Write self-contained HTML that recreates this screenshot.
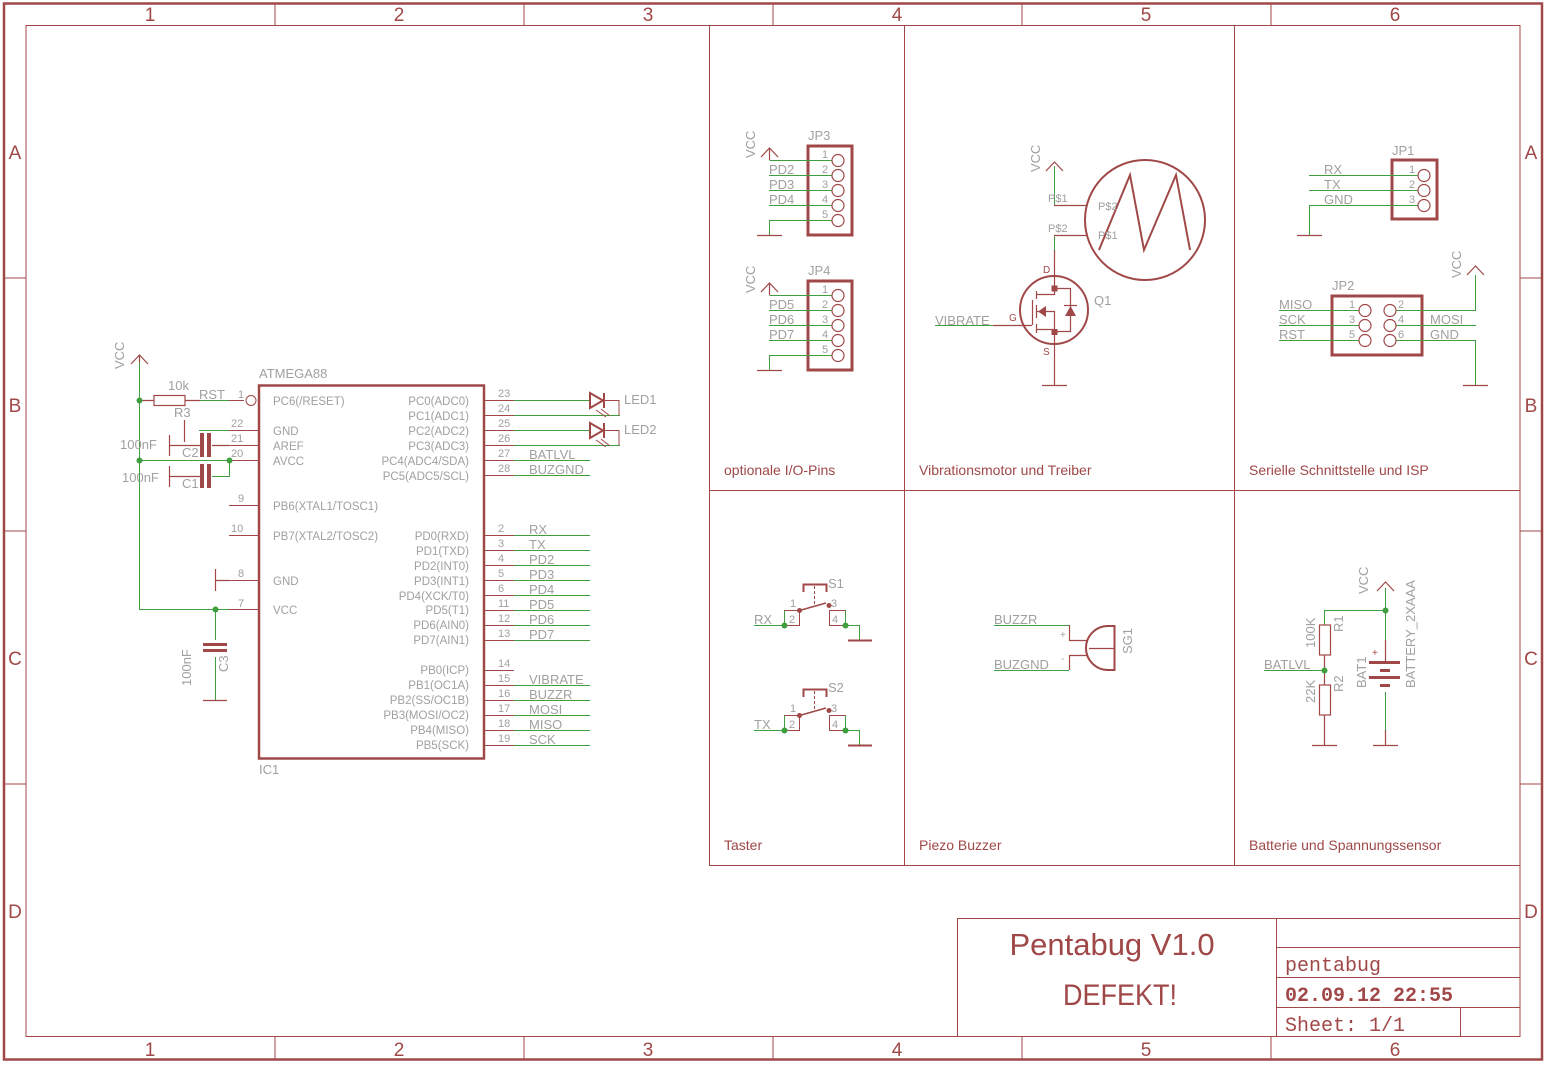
<!DOCTYPE html>
<html><head><meta charset="utf-8"><style>
html,body{margin:0;padding:0;background:#fff}
svg{display:block}
.r{stroke:#a04848;fill:none}
.g{stroke:#3f9f3f;fill:none}
.t{font-family:"Liberation Sans",sans-serif;fill:#a0a0a0}
.rt{font-family:"Liberation Sans",sans-serif;fill:#a04848}
</style></head><body>
<svg width="1545" height="1065" viewBox="0 0 1545 1065" xmlns="http://www.w3.org/2000/svg">
<!-- frame -->
<rect x="4" y="3.5" width="1538" height="1056" class="r" stroke-width="2.5"/>
<rect x="26" y="25.5" width="1494" height="1011" class="r" stroke-width="1"/>
<g class="r" stroke-width="1">
<path d="M275 4V25M524 4V25M773 4V25M1022 4V25M1271 4V25"/>
<path d="M275 1037V1059M524 1037V1059M773 1037V1059M1022 1037V1059M1271 1037V1059"/>
<path d="M4 278H26M4 531H26M4 784H26M1520 278H1542M1520 531H1542M1520 784H1542"/>
<!-- panels -->
<path d="M709.5 26V865.5H1520M904.5 26V865M1234.5 26V865M709 490.5H1520"/>
<!-- title block -->
<path d="M957.5 918.5H1520M957.5 918V1037M1276.5 918V1037M1276 947.5H1520M1276 977.5H1520M1276 1007.5H1520M1460.5 1007V1037"/>
</g>
<g class="rt" font-size="19" text-anchor="middle">
<text x="150" y="21">1</text><text x="399" y="21">2</text><text x="648" y="21">3</text><text x="897" y="21">4</text><text x="1146" y="21">5</text><text x="1395" y="21">6</text>
<text x="150" y="1056">1</text><text x="399" y="1056">2</text><text x="648" y="1056">3</text><text x="897" y="1056">4</text><text x="1146" y="1056">5</text><text x="1395" y="1056">6</text>
<text x="15" y="159">A</text><text x="15" y="412">B</text><text x="15" y="665">C</text><text x="15" y="918">D</text>
<text x="1531" y="159">A</text><text x="1531" y="412">B</text><text x="1531" y="665">C</text><text x="1531" y="918">D</text>
</g>
<g class="rt" font-size="14">
<text x="724" y="475">optionale I/O-Pins</text>
<text x="919" y="475">Vibrationsmotor und Treiber</text>
<text x="1249" y="475">Serielle Schnittstelle und ISP</text>
<text x="724" y="850">Taster</text>
<text x="919" y="850">Piezo Buzzer</text>
<text x="1249" y="850">Batterie und Spannungssensor</text>
</g>
<text class="rt" x="1112" y="955" font-size="31" text-anchor="middle">Pentabug V1.0</text>
<text class="rt" x="1120" y="1005" font-size="30" text-anchor="middle" transform="translate(1120 0) scale(0.9 1) translate(-1120 0)">DEFEKT!</text>
<g font-family="Liberation Mono,monospace" fill="#a04848" font-size="20">
<text x="1285" y="971">pentabug</text>
<text x="1285" y="1001" font-weight="bold">02.09.12 22:55</text>
<text x="1285" y="1031">Sheet: 1/1</text>
</g>

<!-- IC1 -->
<rect x="259" y="385.5" width="225" height="373" class="r" stroke-width="2.5"/>
<text class="t" x="259" y="378" font-size="13">ATMEGA88</text>
<text class="t" x="259" y="774" font-size="13">IC1</text>
<g class="r" stroke-width="1">
<path d="M229 400.5H244M229 430.5H259M229 445.5H259M229 460.5H259M229 505.5H259M229 535.5H259M229 580.5H259M229 609.5H259"/>
<circle cx="251" cy="400.5" r="5"/>
<path d="M484 400.5H514M484 415.5H514M484 430.5H514M484 445.5H514M484 460.5H514M484 475.5H514M484 535.5H514M484 550.5H514M484 565.5H514M484 580.5H514M484 595.5H514M484 610.5H514M484 625.5H514M484 640.5H514M484 670.5H514M484 685.5H514M484 700.5H514M484 715.5H514M484 730.5H514M484 745.5H514"/>
</g>
<g class="g" stroke-width="1">
<path d="M514 400.5H590M514 415.5H620M514 430.5H590M514 445.5H620M514 460.5H590M514 475.5H590M514 535.5H590M514 550.5H590M514 565.5H590M514 580.5H590M514 595.5H590M514 610.5H590M514 625.5H590M514 640.5H590M514 685.5H590M514 700.5H590M514 715.5H590M514 730.5H590M514 745.5H590"/>
</g>
<g class="t" font-size="11.5">
<text x="273" y="405">PC6(/RESET)</text><text x="273" y="435">GND</text><text x="273" y="450">AREF</text><text x="273" y="465">AVCC</text>
<text x="273" y="510">PB6(XTAL1/TOSC1)</text><text x="273" y="540">PB7(XTAL2/TOSC2)</text><text x="273" y="585">GND</text><text x="273" y="614">VCC</text>
</g>
<g class="t" font-size="11.5" text-anchor="end">
<text x="469" y="405">PC0(ADC0)</text><text x="469" y="420">PC1(ADC1)</text><text x="469" y="435">PC2(ADC2)</text><text x="469" y="450">PC3(ADC3)</text><text x="469" y="465">PC4(ADC4/SDA)</text><text x="469" y="480">PC5(ADC5/SCL)</text>
<text x="469" y="540">PD0(RXD)</text><text x="469" y="555">PD1(TXD)</text><text x="469" y="570">PD2(INT0)</text><text x="469" y="585">PD3(INT1)</text><text x="469" y="600">PD4(XCK/T0)</text><text x="469" y="614">PD5(T1)</text><text x="469" y="629">PD6(AIN0)</text><text x="469" y="644">PD7(AIN1)</text>
<text x="469" y="674">PB0(ICP)</text><text x="469" y="689">PB1(OC1A)</text><text x="469" y="704">PB2(SS/OC1B)</text><text x="469" y="719">PB3(MOSI/OC2)</text><text x="469" y="734">PB4(MISO)</text><text x="469" y="749">PB5(SCK)</text>
</g>
<g class="t" font-size="11">
<text x="498" y="397">23</text><text x="498" y="412">24</text><text x="498" y="427">25</text><text x="498" y="442">26</text><text x="498" y="457">27</text><text x="498" y="472">28</text>
<text x="498" y="532">2</text><text x="498" y="547">3</text><text x="498" y="562">4</text><text x="498" y="577">5</text><text x="498" y="592">6</text><text x="498" y="607">11</text><text x="498" y="622">12</text><text x="498" y="637">13</text>
<text x="498" y="667">14</text><text x="498" y="682">15</text><text x="498" y="697">16</text><text x="498" y="712">17</text><text x="498" y="727">18</text><text x="498" y="742">19</text>
<text x="238" y="398">1</text><text x="231" y="427">22</text><text x="231" y="442">21</text><text x="231" y="457">20</text><text x="238" y="502">9</text><text x="231" y="532">10</text><text x="238" y="577">8</text><text x="238" y="607">7</text>
</g>
<g class="t" font-size="13">
<text x="529" y="459">BATLVL</text><text x="529" y="474">BUZGND</text>
<text x="529" y="534">RX</text><text x="529" y="549">TX</text><text x="529" y="564">PD2</text><text x="529" y="579">PD3</text><text x="529" y="594">PD4</text><text x="529" y="609">PD5</text><text x="529" y="624">PD6</text><text x="529" y="639">PD7</text>
<text x="529" y="684">VIBRATE</text><text x="529" y="699">BUZZR</text><text x="529" y="714">MOSI</text><text x="529" y="729">MISO</text><text x="529" y="744">SCK</text>
</g>
<!-- LEDs -->
<g class="r" stroke-width="2">
<path d="M590 393V408L603 400.5Z M604 393V408"/>
<path d="M590 423V438L603 430.5Z M604 423V438"/>
</g>
<g class="r" stroke-width="1">
<path d="M603 400.5H619V415.5M603 430.5H619V445.5"/>
<path d="M596 410L606 417M601 409L610 416M596 440L606 447M601 439L610 446"/>
</g>
<text class="t" x="624" y="404" font-size="13">LED1</text>
<text class="t" x="624" y="434" font-size="13">LED2</text>

<!-- left passives -->
<g class="g" stroke-width="1">
<path d="M139.5 362V609.5H229M139 460.5H229M200 400.5H229M199 430.5H229M229.5 460V476.5H212M215.5 609V640M215.5 657V700"/>
</g>
<g class="r" stroke-width="1.2">
<path d="M131 364L139.5 355L148 364M139.5 355V362"/>
<rect x="154" y="395.5" width="31" height="10"/>
<path d="M139 400.5H154M185 400.5H200M184.5 420V442"/>
<path d="M169.5 435V456M169 445.5H200M212 445.5H229M169.5 466V487M169 476.5H200"/>
<path d="M215.5 569V591M215 580.5H229"/>
<path d="M203 700.5H227"/>
</g>
<g fill="#a04848">
<rect x="200" y="433" width="4" height="24"/><rect x="207" y="433" width="4" height="24"/>
<rect x="200" y="464" width="4" height="24"/><rect x="207" y="464" width="4" height="24"/>
<rect x="203" y="643" width="24" height="3"/><rect x="203" y="649" width="24" height="3"/>
</g>
<g fill="#3f9f3f"><circle cx="139.5" cy="400.5" r="3"/><circle cx="139.5" cy="460.5" r="3"/><circle cx="229.5" cy="460.5" r="3"/><circle cx="215.5" cy="609.5" r="3"/></g>
<g class="t" font-size="13">
<text x="124" y="369" transform="rotate(-90 124 369)">VCC</text>
<text x="168" y="390">10k</text><text x="174" y="417">R3</text><text x="199" y="399">RST</text>
<text x="120" y="449">100nF</text><text x="182" y="457">C2</text>
<text x="122" y="482">100nF</text><text x="182" y="488">C1</text>
<text x="191" y="686" transform="rotate(-90 191 686)">100nF</text>
<text x="228" y="672" transform="rotate(-90 228 672)">C3</text>
</g>

<!-- JP3 / JP4 -->
<g id="jp">
<rect x="808" y="146" width="44" height="89" class="r" stroke-width="3"/>
<g class="g" stroke-width="1"><path d="M769.5 160.5H832M769 175.5H832M769 190.5H832M769 205.5H832M769.5 235V220.5H832"/></g>
<g class="r" stroke-width="1.2">
<path d="M761 157L769.5 148L778 157M769.5 148V160"/>
<path d="M757 235.5H782"/>
<circle cx="838" cy="160.5" r="6"/><circle cx="838" cy="175.5" r="6"/><circle cx="838" cy="190.5" r="6"/><circle cx="838" cy="205.5" r="6"/><circle cx="838" cy="220.5" r="6"/>
</g>
<g class="t" font-size="11"><text x="822" y="158">1</text><text x="822" y="173">2</text><text x="822" y="188">3</text><text x="822" y="203">4</text><text x="822" y="218">5</text></g>
</g>
<use href="#jp" transform="translate(0 135)"/>
<g class="t" font-size="13">
<text x="755" y="158" transform="rotate(-90 755 158)">VCC</text><text x="808" y="140">JP3</text>
<text x="769" y="174">PD2</text><text x="769" y="189">PD3</text><text x="769" y="204">PD4</text>
<text x="755" y="293" transform="rotate(-90 755 293)">VCC</text><text x="808" y="275">JP4</text>
<text x="769" y="309">PD5</text><text x="769" y="324">PD6</text><text x="769" y="339">PD7</text>
</g>

<!-- Motor & Q1 -->
<g class="g" stroke-width="1"><path d="M1054.5 166V205.5M1054.5 235V250M935 325.5H993"/></g>
<g class="r" stroke-width="1.2">
<path d="M1046 171L1054.5 162L1063 171"/>
<path d="M1054 205.5H1086M1054 235.5H1086M1054.5 250V288"/>
<circle cx="1145" cy="220" r="60" stroke-width="2"/>
<path d="M1099 250L1130 175L1144 250L1176 175L1190 250" stroke-width="2"/>
<circle cx="1054" cy="310" r="34" stroke-width="2"/>
<path d="M993 325.5H1032M1032.5 300V325"/>
<path d="M1036.5 291V299M1036.5 305V318M1036.5 324V333"/>
<path d="M1036 294.5H1054.5V288M1036 311.5H1054.5V332M1036 329.5H1054.5"/>
<path d="M1054 288.5H1070.5V331.5H1054"/>
<path d="M1054.5 332V385M1042 385.5H1067"/>
<path d="M1064 305.5H1077"/>
</g>
<g fill="#a04848">
<path d="M1038 311.5L1046 306V317Z"/><path d="M1065 316L1070.5 306L1076 316Z"/>
<rect x="1051.5" y="285.5" width="6" height="6"/><rect x="1051.5" y="329" width="6" height="6"/>
</g>
<g class="t" font-size="11">
<text x="1040" y="172" font-size="13" transform="rotate(-90 1040 172)">VCC</text>
<text x="1048" y="202">P$1</text><text x="1048" y="232">P$2</text>
<text x="1098" y="210">P$2</text><text x="1098" y="239">P$1</text>
<text x="1094" y="305" font-size="13">Q1</text>
<text x="935" y="325" font-size="13">VIBRATE</text>
</g>
<g class="rt" font-size="10"><text x="1043" y="273">D</text><text x="1009" y="321">G</text><text x="1043" y="355">S</text></g>

<!-- JP1 -->
<rect x="1392" y="160" width="45" height="59" class="r" stroke-width="3"/>
<g class="g" stroke-width="1"><path d="M1309 175.5H1418M1309 190.5H1418M1309.5 235V205.5H1418"/></g>
<g class="r" stroke-width="1.2">
<path d="M1297 235.5H1322"/>
<circle cx="1424" cy="175.5" r="6"/><circle cx="1424" cy="190.5" r="6"/><circle cx="1424" cy="205.5" r="6"/>
</g>
<g class="t" font-size="13"><text x="1392" y="155">JP1</text><text x="1324" y="174">RX</text><text x="1324" y="189">TX</text><text x="1324" y="204">GND</text></g>
<g class="t" font-size="11"><text x="1409" y="173">1</text><text x="1409" y="188">2</text><text x="1409" y="203">3</text></g>
<!-- JP2 -->
<rect x="1332" y="296" width="90" height="59" class="r" stroke-width="3"/>
<g class="g" stroke-width="1"><path d="M1279 310.5H1359M1279 325.5H1359M1279 340.5H1359M1396 310.5H1475.5V275M1396 325.5H1476M1396 340.5H1475.5V385"/></g>
<g class="r" stroke-width="1.2">
<path d="M1467 275L1475.5 266L1484 275"/>
<path d="M1463 385.5H1488"/>
<circle cx="1365" cy="310.5" r="6"/><circle cx="1365" cy="325.5" r="6"/><circle cx="1365" cy="340.5" r="6"/>
<circle cx="1390" cy="310.5" r="6"/><circle cx="1390" cy="325.5" r="6"/><circle cx="1390" cy="340.5" r="6"/>
</g>
<g class="t" font-size="13"><text x="1332" y="290">JP2</text><text x="1279" y="309">MISO</text><text x="1279" y="324">SCK</text><text x="1279" y="339">RST</text><text x="1430" y="324">MOSI</text><text x="1430" y="339">GND</text>
<text x="1461" y="278" transform="rotate(-90 1461 278)">VCC</text></g>
<g class="t" font-size="11"><text x="1349" y="308">1</text><text x="1349" y="323">3</text><text x="1349" y="338">5</text><text x="1398" y="308">2</text><text x="1398" y="323">4</text><text x="1398" y="338">6</text></g>

<!-- switches -->
<g id="sw">
<g class="g" stroke-width="1"><path d="M754 625.5H784.5V610M845.5 610V625.5H859.5V640"/></g>
<g class="r" stroke-width="1">
<path d="M784.5 610.5H799.5V625.5H784M829.5 610.5V625.5H846M829 610.5H845.5"/>
<path d="M799.5 610.5L826 603" stroke-width="1.6"/>
<path d="M803.5 592V584.5H826.5V592" stroke-width="2"/>
<path d="M814.5 586V604" stroke-dasharray="3 2"/>
<path d="M848 640.5H872" stroke-width="2"/>
</g>
<g fill="#a04848"><circle cx="799.5" cy="610.5" r="2.5"/><circle cx="829" cy="605.5" r="2.5"/></g>
<g fill="#3f9f3f"><circle cx="784.5" cy="625.5" r="3"/><circle cx="845.5" cy="625.5" r="3"/></g>
<g class="t" font-size="11"><text x="790" y="607">1</text><text x="831" y="607">3</text><text x="789" y="623">2</text><text x="832" y="623">4</text></g>
</g>
<use href="#sw" transform="translate(0 105)"/>
<g class="t" font-size="13"><text x="828" y="588">S1</text><text x="754" y="624">RX</text><text x="828" y="692">S2</text><text x="754" y="729">TX</text></g>

<!-- buzzer -->
<g class="g" stroke-width="1"><path d="M994 625.5H1069M994 670.5H1069"/></g>
<g class="r" stroke-width="1.2">
<path d="M1069.5 625V640.5H1088M1069.5 670V655.5H1088M1089 648.5H1114"/>
<path d="M1114.5 626V670H1108A22 22 0 0 1 1108 626Z" stroke-width="2"/>
</g>
<g class="t" font-size="13"><text x="994" y="624">BUZZR</text><text x="994" y="669">BUZGND</text>
<text x="1132" y="654" transform="rotate(-90 1132 654)">SG1</text></g>
<text class="t" x="1060" y="638" font-size="10">+</text><text class="t" x="1061" y="662" font-size="10">-</text>

<!-- battery -->
<g class="g" stroke-width="1"><path d="M1385.5 588V640M1324.5 625V610.5H1385.5M1264 670.5H1324M1385.5 692V730"/></g>
<g class="r" stroke-width="1.2">
<path d="M1377 591L1385.5 582L1394 591"/>
<rect x="1319.5" y="625" width="11" height="30"/><rect x="1319.5" y="685" width="11" height="30"/>
<path d="M1324.5 655V685M1324.5 715V745M1312 745.5H1337M1385.5 640V663M1385.5 730V745M1373 745.5H1398"/>
</g>
<g fill="#a04848"><rect x="1369" y="661" width="31" height="3"/><rect x="1380" y="669" width="10" height="3"/><rect x="1369" y="676" width="31" height="3"/><rect x="1380" y="684" width="10" height="3"/></g>
<g fill="#3f9f3f"><circle cx="1385.5" cy="610.5" r="3"/><circle cx="1324.5" cy="670.5" r="3"/></g>
<g class="t" font-size="13">
<text x="1368" y="594" transform="rotate(-90 1368 594)">VCC</text>
<text x="1264" y="669">BATLVL</text>
<text x="1315" y="648" transform="rotate(-90 1315 648)">100K</text>
<text x="1343" y="632" transform="rotate(-90 1343 632)">R1</text>
<text x="1315" y="703" transform="rotate(-90 1315 703)">22K</text>
<text x="1343" y="692" transform="rotate(-90 1343 692)">R2</text>
<text x="1366" y="688" transform="rotate(-90 1366 688)">BAT1</text>
<text x="1415" y="688" transform="rotate(-90 1415 688)">BATTERY_2XAAA</text>
</g>
<text class="rt" x="1372" y="656" font-size="10">+</text>
</svg>
</body></html>
